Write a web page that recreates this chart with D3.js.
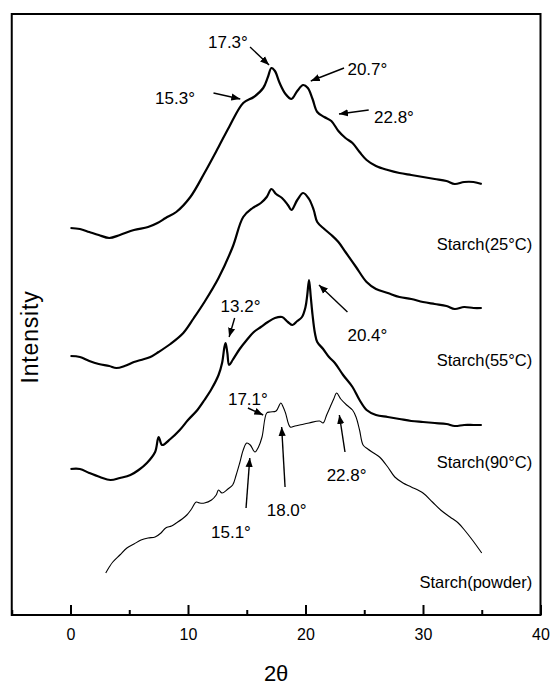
<!DOCTYPE html>
<html>
<head>
<meta charset="utf-8">
<script src="https://cdn.jsdelivr.net/npm/d3@7"></script>
<style>
  body { margin: 0; background: #fff; }
  text { font-family: "Liberation Sans", Arial, Helvetica, sans-serif; fill: #000; }
</style>
</head>
<body>
<div id="my_dataviz"></div>
<script>
// XRD patterns, [2theta, intensity (arb. units, curves stacked)]
var starch25 = [[0,387],[0.8,386],[1.6,383],[2.4,380],[3.3,377],[4.2,380],[5.4,385],[6.6,388],[7.4,392],[8.1,397],[9.0,403],[10.2,418],[11.4,442],[12.6,468],[13.5,488],[14.7,512],[15.6,518],[16.4,527],[16.8,538],[17.1,547],[17.4,544],[17.8,532],[18.3,521],[18.8,516],[19.3,524],[19.8,530],[20.2,527],[20.6,516],[21.0,503],[21.6,498],[22.2,494],[22.8,484],[23.4,477],[24.0,472],[24.6,463],[25.2,455],[26.0,449],[27.0,445],[28.0,442],[29.0,440],[30.0,438],[31.0,436],[32.0,434],[32.7,431],[33.5,433],[34.3,433],[35.0,431]];

var starch55 = [[0,259],[0.8,258],[1.6,254],[2.4,251],[3.3,249],[3.9,247],[4.6,249],[5.4,253],[6.0,255],[6.8,258],[7.5,263],[8.5,271],[9.6,282],[10.5,297],[11.4,313],[12.6,337],[13.8,368],[14.7,398],[15.5,407],[16.2,412],[16.7,418],[17.1,426],[17.5,421],[18.0,417],[18.5,410],[18.8,405],[19.3,415],[19.8,422],[20.3,416],[20.7,405],[21.0,393],[21.6,386],[22.2,380],[22.8,373],[23.4,363],[24.3,348],[25.2,333],[26.0,326],[27.0,322],[28.0,318],[29.0,316],[30.0,313],[31.0,311],[32.0,309],[32.7,306],[33.5,308],[34.3,307],[35.0,307]];

var starch90 = [[0,146],[0.8,146],[1.6,142],[2.5,138],[3.4,135],[4.2,137],[5.1,140],[5.8,145],[6.5,152],[7.2,163],[7.5,178],[7.8,170],[8.5,176],[9.3,185],[10.0,195],[10.8,205],[11.4,215],[12.0,226],[12.6,240],[12.9,252],[13.1,268],[13.2,272],[13.35,262],[13.5,250],[13.8,255],[14.4,266],[15.0,275],[15.6,283],[16.2,288],[16.8,293],[17.4,297],[18.0,298],[18.5,293],[18.9,290],[19.3,294],[19.7,298],[20.0,308],[20.15,320],[20.3,335],[20.45,318],[20.6,300],[20.8,282],[21.0,273],[21.5,266],[22.0,258],[22.5,252],[23.2,240],[24.0,228],[24.6,215],[25.2,205],[26.0,200],[27.0,198],[28.0,196],[29.0,194],[30.0,193],[31.0,192],[32.0,191],[32.7,189],[33.5,190],[34.3,190],[35.0,190]];

var starchPowder = [[3.0,42],[3.3,48],[3.6,53],[4.2,60],[4.8,67],[5.4,71],[6.0,75],[6.6,77],[7.2,78],[7.7,82],[8.1,87],[8.6,89],[9.0,92],[9.5,96],[9.9,100],[10.3,106],[10.7,113],[11.0,112],[11.4,112],[12.0,115],[12.4,120],[12.6,125],[12.9,122],[13.4,126],[13.8,130],[14.1,140],[14.4,152],[14.7,165],[15.0,172],[15.3,170],[15.7,163],[16.0,168],[16.3,178],[16.7,202],[17.0,203],[17.5,204],[17.9,212],[18.1,208],[18.3,202],[18.7,188],[19.1,189],[19.5,190],[20.3,192],[21.2,194],[21.5,192],[21.8,200],[22.1,208],[22.4,216],[22.65,222],[23.0,216],[23.5,210],[24.0,205],[24.3,198],[24.6,185],[24.9,170],[25.3,166],[25.8,162],[26.3,158],[27.0,148],[27.6,138],[28.3,132],[29.0,128],[30.0,122],[30.8,113],[31.5,105],[32.3,98],[33.0,92],[33.6,84],[34.2,75],[35.0,62]];

var majorTicks = [0, 10, 20, 30, 40];
var minorTicks = [-5, 5, 15, 25, 35];

// series labels: text, 2theta of right end, intensity of baseline
var seriesLabels = [["Starch(25°C)", 39.3, 365], ["Starch(55°C)", 39.3, 249], ["Starch(90°C)", 39.3, 147], ["Starch(powder)", 39.3, 27]];

// peak annotations: text, text pos [2theta, I], arrow from, arrow to
var peakNotes = [
  ["17.3°", [11.7, 567], [15.28, 568], [16.9, 550]],
  ["15.3°", [7.2, 511], [12.17, 522], [14.45, 516]],
  ["20.7°", [23.57, 540], [23.28, 547], [20.45, 534]],
  ["22.8°", [25.83, 492], [25.38, 505], [22.85, 501]],
  ["13.2°", [12.77, 303], [13.97, 297], [13.5, 278]],
  ["20.4°", [23.57, 274], [23.57, 303], [21.15, 330]],
  ["17.1°", [13.4, 210], [15.1, 207], [16.4, 200]],
  ["22.8°", [21.8, 134], [23.36, 163], [22.88, 200]],
  ["18.0°", [16.7, 99], [18.26, 128], [17.97, 188]],
  ["15.1°", [11.96, 77], [14.94, 107], [15.26, 157]]
];

var W = 553, H = 685;
var svg = d3.select("#my_dataviz").append("svg").attr("width", W).attr("height", H);

var x = d3.scaleLinear().domain([-5, 40]).range([11.75, 540.5]);
var y = d3.scaleLinear().domain([0, 601]).range([615, 14]);

svg.append("defs").append("marker")
  .attr("id", "ah").attr("viewBox", "0 0 10 10").attr("refX", 10).attr("refY", 5)
  .attr("markerWidth", 9).attr("markerHeight", 9).attr("markerUnits", "userSpaceOnUse")
  .attr("orient", "auto")
  .append("path").attr("d", "M0,1 L10,5 L0,9 Z").attr("fill", "#000");

// frame
svg.append("rect")
  .attr("x", x(-5)).attr("y", y(601))
  .attr("width", x(40) - x(-5)).attr("height", y(0) - y(601))
  .attr("fill", "none").attr("stroke", "#000").attr("stroke-width", 2);

// bottom axis, ticks pointing inward
var xAxis = d3.axisBottom(x).tickValues(majorTicks).tickSize(-10).tickPadding(14).tickFormat(d3.format("d"));
var gx = svg.append("g").attr("transform", "translate(0," + y(0) + ")").call(xAxis);
gx.select(".domain").remove();
gx.selectAll("line").attr("stroke-width", 2);
gx.selectAll("text").attr("font-size", 16).attr("font-family", "Liberation Sans, Arial, sans-serif");
var gm = svg.append("g").attr("transform", "translate(0," + y(0) + ")")
  .call(d3.axisBottom(x).tickValues(minorTicks).tickSize(-5).tickFormat(""));
gm.select(".domain").remove();
gm.selectAll("line").attr("stroke-width", 2);

svg.append("text").attr("x", (x(-5) + x(40)) / 2).attr("y", 681)
  .attr("text-anchor", "middle").attr("font-size", 22).text("2θ");

svg.append("text").attr("transform", "translate(38," + 337 + ") rotate(-90)")
  .attr("text-anchor", "middle").attr("font-size", 23).attr("letter-spacing", 0.8).text("Intensity");

// curves
var line = d3.line().curve(d3.curveCatmullRom.alpha(0.5))
  .x(function(d) { return x(d[0]); }).y(function(d) { return y(d[1]); });
[[starch25, 2.2], [starch55, 2.2], [starch90, 2.2], [starchPowder, 1.1]].forEach(function(s) {
  svg.append("path").datum(s[0])
    .attr("fill", "none").attr("stroke", "#000").attr("stroke-width", s[1])
    .attr("stroke-linejoin", "round").attr("d", line);
});

// series labels
svg.selectAll(".slabel").data(seriesLabels).enter().append("text")
  .attr("class", "slabel")
  .attr("x", function(d) { return x(d[1]); }).attr("y", function(d) { return y(d[2]); })
  .attr("text-anchor", "end").attr("font-size", 16.5)
  .text(function(d) { return d[0]; });

// peak annotations
var notes = svg.selectAll(".note").data(peakNotes).enter().append("g").attr("class", "note");
notes.append("text")
  .attr("x", function(d) { return x(d[1][0]); }).attr("y", function(d) { return y(d[1][1]); })
  .attr("font-size", 17)
  .text(function(d) { return d[0]; });
notes.append("line")
  .attr("x1", function(d) { return x(d[2][0]); }).attr("y1", function(d) { return y(d[2][1]); })
  .attr("x2", function(d) { return x(d[3][0]); }).attr("y2", function(d) { return y(d[3][1]); })
  .attr("stroke", "#000").attr("stroke-width", 1.4).attr("marker-end", "url(#ah)");
</script>
</body>
</html>
